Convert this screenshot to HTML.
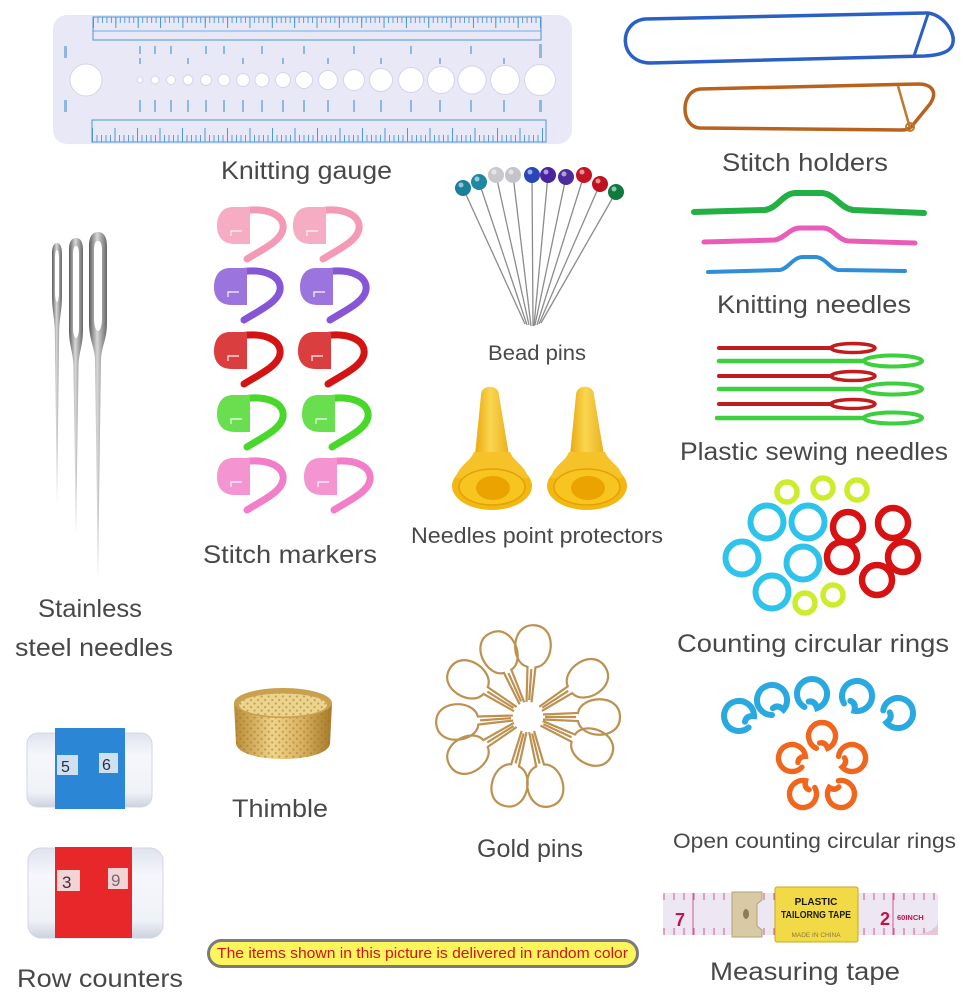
<!DOCTYPE html>
<html><head><meta charset="utf-8"><style>
html,body{margin:0;padding:0;background:#fff;}
svg{display:block;}
.l{font-family:"Liberation Sans",sans-serif;fill:#484848;font-size:25px;}
</style></head><body>
<svg width="972" height="996" viewBox="0 0 972 996" xmlns="http://www.w3.org/2000/svg">
<defs>
 <linearGradient id="steel" x1="0" x2="1" y1="0" y2="0">
  <stop offset="0" stop-color="#5a5a5a"/><stop offset=".45" stop-color="#d8d8d8"/><stop offset="1" stop-color="#686868"/>
 </linearGradient>
 <linearGradient id="gold" x1="0" x2="1" y1="0" y2="0">
  <stop offset="0" stop-color="#b88a35"/><stop offset=".4" stop-color="#f0d48a"/><stop offset=".7" stop-color="#d9b060"/><stop offset="1" stop-color="#a57a28"/>
 </linearGradient>
 <linearGradient id="cone" x1="0" x2="1" y1="0" y2="0">
  <stop offset="0" stop-color="#e9a90e"/><stop offset=".45" stop-color="#f9d650"/><stop offset="1" stop-color="#eab020"/>
 </linearGradient>
 <linearGradient id="cyl" x1="0" x2="0" y1="0" y2="1">
  <stop offset="0" stop-color="#dfe3ee"/><stop offset=".3" stop-color="#f6f7fc"/><stop offset=".8" stop-color="#f0f2f8"/><stop offset="1" stop-color="#cdd2e0"/>
 </linearGradient>
 <pattern id="tt" patternUnits="userSpaceOnUse" x="93" y="17" width="4.47" height="30">
  <line x1="0.5" y1="0" x2="0.5" y2="6" stroke="#4d98d6" stroke-width="0.9"/>
 </pattern>
 <pattern id="tt2" patternUnits="userSpaceOnUse" x="93" y="17" width="22.35" height="30">
  <line x1="0.5" y1="0" x2="0.5" y2="11" stroke="#4d98d6" stroke-width="1"/>
 </pattern>
 <pattern id="bt" patternUnits="userSpaceOnUse" x="92" y="0" width="4.5" height="200">
  <line x1="0.5" y1="135" x2="0.5" y2="142" stroke="#4d98d6" stroke-width="0.9"/>
 </pattern>
 <pattern id="bt2" patternUnits="userSpaceOnUse" x="92" y="0" width="22.5" height="200">
  <line x1="0.5" y1="128" x2="0.5" y2="142" stroke="#4d98d6" stroke-width="1"/>
 </pattern>
 <pattern id="tp" patternUnits="userSpaceOnUse" x="663" y="893" width="10" height="50">
  <line x1="1" y1="0" x2="1" y2="7" stroke="#d05a8a" stroke-width="1"/>
  <line x1="1" y1="35" x2="1" y2="42" stroke="#d05a8a" stroke-width="1"/>
 </pattern>
 <pattern id="dots" patternUnits="userSpaceOnUse" width="5" height="5" patternTransform="rotate(45)">
  <circle cx="2.5" cy="2.5" r="1.1" fill="#9c7428" opacity=".55"/>
 </pattern>
 <g id="mk">
  <path d="M26,4 C50,0 68,8 66,22 C64,34 46,42 30,52" stroke="currentColor" stroke-width="7" fill="none" stroke-linecap="round"/>
  <path d="M33,0 L16,0 C4,0 0,10 0,19 C0,30 6,37 18,37 L33,37 Z" fill="currentColor"/>
  <path d="M33,0 L16,0 C4,0 0,10 0,19 C0,30 6,37 18,37 L33,37 Z" fill="#fff" opacity=".18"/>
  <path d="M14,29 L14,24 L25,24" stroke="#fff" stroke-width="1.4" fill="none" opacity=".8"/>
 </g>
 <path id="orng" d="M-5.1,14.1 A15 15 0 1 1 7.5,13 Q4,6 -2,8" fill="none" stroke-width="6" stroke-linecap="round"/>
 <path id="gp" d="M15,-2.5 L50,-4 C53,-22 92,-24 92,0 C92,24 53,22 50,4 L15,2.5 M17,0 L48,0" fill="none" stroke="#bd9150" stroke-width="2.2"/>
</defs>

<!-- Knitting gauge -->
<rect x="53" y="15" width="519" height="129" rx="14" fill="#e9e8f6"/>
<rect x="93" y="17" width="448" height="22" fill="url(#tt)"/>
<rect x="93" y="17" width="448" height="22" fill="url(#tt2)"/>
<rect x="93" y="17" width="448" height="23" fill="none" stroke="#4d98d6" stroke-width="1"/>
<line x1="93" y1="31" x2="541" y2="31" stroke="#4d98d6" stroke-width="0.8"/>
<rect x="92" y="120" width="454" height="22" fill="url(#bt)"/>
<rect x="92" y="120" width="454" height="22" fill="url(#bt2)"/>
<rect x="92" y="120" width="454" height="22" fill="none" stroke="#4d98d6" stroke-width="1"/>
<g fill="#8db8e4">
 <rect x="64" y="46" width="3" height="12"/><rect x="139" y="46" width="2" height="8"/><rect x="154" y="46" width="2" height="8"/><rect x="170" y="46" width="2" height="8"/><rect x="205" y="46" width="2" height="8"/><rect x="223" y="46" width="2" height="8"/><rect x="261" y="46" width="2" height="8"/><rect x="303" y="46" width="2" height="8"/><rect x="353" y="46" width="2" height="8"/><rect x="410" y="46" width="2" height="8"/><rect x="470" y="46" width="2" height="8"/><rect x="539" y="44" width="3" height="14"/>
 <rect x="139" y="58" width="2" height="6"/><rect x="187" y="58" width="2" height="6"/><rect x="242" y="58" width="2" height="6"/><rect x="282" y="58" width="2" height="6"/><rect x="327" y="58" width="2" height="6"/><rect x="380" y="58" width="2" height="6"/><rect x="439" y="58" width="2" height="6"/><rect x="503" y="58" width="2" height="6"/>
 <rect x="64" y="100" width="3" height="12"/><rect x="139" y="100" width="2" height="12"/><rect x="154" y="100" width="2" height="12"/><rect x="170" y="100" width="2" height="12"/><rect x="187" y="100" width="2" height="12"/><rect x="205" y="100" width="2" height="12"/><rect x="223" y="100" width="2" height="12"/><rect x="242" y="100" width="2" height="12"/><rect x="261" y="100" width="2" height="12"/><rect x="282" y="100" width="2" height="12"/><rect x="303" y="100" width="2" height="12"/><rect x="327" y="100" width="2" height="12"/><rect x="353" y="100" width="2" height="12"/><rect x="380" y="100" width="2" height="12"/><rect x="410" y="100" width="2" height="12"/><rect x="439" y="100" width="2" height="12"/><rect x="470" y="100" width="2" height="12"/><rect x="503" y="100" width="2" height="12"/><rect x="539" y="100" width="3" height="12"/>
</g>
<g fill="#fff" stroke="#d6d4ea" stroke-width="1">
 <circle cx="86" cy="80" r="16"/><circle cx="140" cy="80" r="3"/><circle cx="155" cy="80" r="4"/><circle cx="171" cy="80" r="4.5"/><circle cx="188" cy="80" r="5"/><circle cx="206" cy="80" r="5.5"/><circle cx="224" cy="80" r="6"/><circle cx="243" cy="80" r="6.5"/><circle cx="262" cy="80" r="7"/><circle cx="283" cy="80" r="7.5"/><circle cx="304" cy="80" r="8.5"/><circle cx="328" cy="80" r="9.5"/><circle cx="354" cy="80" r="10.5"/><circle cx="381" cy="80" r="11.5"/><circle cx="411" cy="80" r="12.5"/><circle cx="441" cy="80" r="13.5"/><circle cx="472" cy="80" r="14"/><circle cx="505" cy="80" r="14.5"/><circle cx="540" cy="80" r="15.5"/>
</g>
<text class="l" x="221" y="179" textLength="171" lengthAdjust="spacingAndGlyphs">Knitting gauge</text>

<!-- Stitch holders -->
<path d="M645,19 L925,13 C940,12 955,30 953,42 C952,52 940,55 925,56 L650,63 C618,62 618,22 645,19 Z" fill="none" stroke="#2a5fc4" stroke-width="3.5"/>
<line x1="928" y1="14" x2="914" y2="56" stroke="#2a5fc4" stroke-width="3"/>
<path d="M700,89 L918,84 C932,84 938,92 930,104 L912,126 C908,130 905,130 900,130 L700,128 C680,127 680,91 700,89 Z" fill="none" stroke="#b8621e" stroke-width="3.5"/>
<line x1="898" y1="86" x2="910" y2="128" stroke="#c0782e" stroke-width="2.5"/>
<circle cx="910" cy="127" r="4" fill="none" stroke="#c0782e" stroke-width="2"/>
<text class="l" x="722" y="171" textLength="166" lengthAdjust="spacingAndGlyphs">Stitch holders</text>

<!-- Cable needles -->
<path d="M694,212 L765,210 C778,208 782,194 795,193 L822,193 C835,194 840,208 853,210 L924,213" fill="none" stroke="#23b043" stroke-width="6" stroke-linecap="round"/>
<path d="M704,242 L775,240 C785,238 790,228 800,228 L823,228 C833,228 838,240 848,241 L915,243" fill="none" stroke="#ea5cb9" stroke-width="5" stroke-linecap="round"/>
<path d="M708,272 L780,270 C788,269 793,257 803,257 L815,257 C825,257 830,269 838,270 L905,271" fill="none" stroke="#2f8ed8" stroke-width="4" stroke-linecap="round"/>
<text class="l" x="717" y="313" textLength="194" lengthAdjust="spacingAndGlyphs">Knitting needles</text>

<!-- Plastic sewing needles -->
<g stroke-linecap="round" fill="none">
 <line x1="719" y1="348" x2="832" y2="348" stroke="#c21c1c" stroke-width="4"/><ellipse cx="853" cy="348" rx="22" ry="4.5" stroke="#c21c1c" stroke-width="3.5"/>
 <line x1="719" y1="361" x2="864" y2="361" stroke="#3ecf3e" stroke-width="4.5"/><ellipse cx="893" cy="361" rx="29" ry="5.5" stroke="#3ecf3e" stroke-width="4"/>
 <line x1="719" y1="376" x2="832" y2="376" stroke="#c21c1c" stroke-width="4"/><ellipse cx="853" cy="376" rx="22" ry="4.5" stroke="#c21c1c" stroke-width="3.5"/>
 <line x1="719" y1="389" x2="864" y2="389" stroke="#3ecf3e" stroke-width="4.5"/><ellipse cx="893" cy="389" rx="29" ry="5.5" stroke="#3ecf3e" stroke-width="4"/>
 <line x1="719" y1="404" x2="832" y2="404" stroke="#c21c1c" stroke-width="4"/><ellipse cx="853" cy="404" rx="22" ry="4.5" stroke="#c21c1c" stroke-width="3.5"/>
 <line x1="717" y1="418" x2="864" y2="418" stroke="#3ecf3e" stroke-width="4.5"/><ellipse cx="893" cy="418" rx="29" ry="5.5" stroke="#3ecf3e" stroke-width="4"/>
</g>
<text class="l" x="680" y="460" textLength="268" lengthAdjust="spacingAndGlyphs">Plastic sewing needles</text>

<!-- Stainless steel needles -->
<path d="M57,505 L54.8,330 C54.5,318 52,310 52,295 L52,255 C52,246 54,243 57,243 C60,243 62,246 62,255 L62,295 C62,310 59.5,318 59.2,330 Z" fill="url(#steel)"/>
<path d="M57,250 C55.5,250 55,254 55,260 L55,292 C55,298 56,302 57,302 C58,302 59,298 59,292 L59,260 C59,254 58.5,250 57,250 Z" fill="#fff"/>
<path d="M76,535 L73.4,365 C73,352 69,345 69,330 L69,250 C69,241 72,238 76,238 C80,238 83,241 83,250 L83,330 C83,345 79,352 78.6,365 Z" fill="url(#steel)"/>
<path d="M76,246 C73.5,246 73,250 73,256 L73,328 C73,334 74.5,338 76,338 C77.5,338 79,334 79,328 L79,256 C79,250 78.5,246 76,246 Z" fill="#fff"/>
<path d="M98,580 L95,360 C94.5,346 89,340 89,322 L89,246 C89,236 93,232 98,232 C103,232 107,236 107,246 L107,322 C107,340 101.5,346 101,360 Z" fill="url(#steel)"/>
<path d="M98,241 C94.5,241 94,246 94,252 L94,318 C94,326 96,331 98,331 C100,331 102,326 102,318 L102,252 C102,246 101.5,241 98,241 Z" fill="#fff"/>
<text class="l" x="38" y="617" textLength="104" lengthAdjust="spacingAndGlyphs">Stainless</text>
<text class="l" x="15" y="656" textLength="158" lengthAdjust="spacingAndGlyphs">steel needles</text>

<!-- Stitch markers -->
<use href="#mk" x="217" y="207" style="color:#f59ab5"/>
<use href="#mk" x="293" y="207" style="color:#f59ab5"/>
<use href="#mk" x="214" y="268" style="color:#8656d6"/>
<use href="#mk" x="300" y="268" style="color:#8656d6"/>
<use href="#mk" x="214" y="332" style="color:#d41414"/>
<use href="#mk" x="298" y="332" style="color:#d41414"/>
<use href="#mk" x="217" y="395" style="color:#48d82a"/>
<use href="#mk" x="302" y="395" style="color:#48d82a"/>
<use href="#mk" x="217" y="458" style="color:#f27ec9"/>
<use href="#mk" x="304" y="458" style="color:#f27ec9"/>
<text class="l" x="203" y="563" textLength="174" lengthAdjust="spacingAndGlyphs">Stitch markers</text>

<!-- Bead pins -->
<g stroke="#8c8c8c" stroke-width="1.3">
 <line x1="463" y1="188" x2="525" y2="324"/><line x1="479" y1="182" x2="527" y2="325"/><line x1="496" y1="175" x2="529" y2="325"/><line x1="513" y1="175" x2="531" y2="326"/><line x1="532" y1="175" x2="533" y2="326"/><line x1="548" y1="175" x2="534" y2="326"/><line x1="566" y1="177" x2="535" y2="325"/><line x1="584" y1="175" x2="537" y2="325"/><line x1="600" y1="184" x2="539" y2="324"/><line x1="616" y1="192" x2="541" y2="323"/>
</g>
<g>
 <circle cx="463" cy="188" r="8" fill="#1b7f9c"/><circle cx="479" cy="182" r="8" fill="#1f86a4"/><circle cx="496" cy="175" r="8" fill="#c9c9cc"/><circle cx="513" cy="175" r="8" fill="#c4c4c8"/><circle cx="532" cy="175" r="8" fill="#2846b8"/><circle cx="548" cy="175" r="8" fill="#4a24a0"/><circle cx="566" cy="177" r="8" fill="#4b2d9e"/><circle cx="584" cy="175" r="8" fill="#c41424"/><circle cx="600" cy="184" r="8" fill="#c01020"/><circle cx="616" cy="192" r="8" fill="#0e7a3e"/>
 <g fill="#fff" opacity=".55"><circle cx="461" cy="185" r="2.5"/><circle cx="477" cy="179" r="2.5"/><circle cx="494" cy="172" r="2.5"/><circle cx="511" cy="172" r="2.5"/><circle cx="530" cy="172" r="2.5"/><circle cx="546" cy="172" r="2.5"/><circle cx="564" cy="174" r="2.5"/><circle cx="582" cy="172" r="2.5"/><circle cx="598" cy="181" r="2.5"/><circle cx="614" cy="189" r="2.5"/></g>
</g>
<text class="l" x="488" y="360" textLength="98" lengthAdjust="spacingAndGlyphs" style="font-size:21px">Bead pins</text>

<!-- Needle point protectors -->
<g>
 <path d="M481,395 C481,384 499,384 499,395 L509,455 L475,455 Z" fill="url(#cone)"/>
 <ellipse cx="492" cy="486" rx="40" ry="24" fill="#f3b712"/>
 <path d="M474,452 C470,462 458,466 456,478 L528,478 C526,466 514,462 510,452 Z" fill="#f5c22a"/>
 <ellipse cx="492" cy="487" rx="33" ry="18" fill="#f7c420" stroke="#e3a106" stroke-width="1.5"/>
 <ellipse cx="493" cy="488" rx="17" ry="12" fill="#eaa300"/>
 <path d="M576,395 C576,384 594,384 594,395 L604,455 L570,455 Z" fill="url(#cone)"/>
 <ellipse cx="587" cy="486" rx="40" ry="24" fill="#f3b712"/>
 <path d="M569,452 C565,462 553,466 551,478 L623,478 C621,466 609,462 605,452 Z" fill="#f5c22a"/>
 <ellipse cx="587" cy="487" rx="33" ry="18" fill="#f7c420" stroke="#e3a106" stroke-width="1.5"/>
 <ellipse cx="588" cy="488" rx="17" ry="12" fill="#eaa300"/>
</g>
<text class="l" x="411" y="543" textLength="252" lengthAdjust="spacingAndGlyphs" style="font-size:22px">Needles point protectors</text>

<!-- Counting circular rings -->
<g fill="none">
 <g stroke="#2ec3ea" stroke-width="6"><circle cx="767" cy="522" r="16.5"/><circle cx="808" cy="522" r="16.5"/><circle cx="742" cy="558" r="16.5"/><circle cx="803" cy="563" r="16.5"/><circle cx="772" cy="592" r="16.5"/></g>
 <g stroke="#d81212" stroke-width="6.5"><circle cx="848" cy="527" r="15"/><circle cx="893" cy="523" r="15"/><circle cx="842" cy="557" r="15"/><circle cx="903" cy="557" r="15"/><circle cx="877" cy="580" r="15"/></g>
 <g stroke="#cdec2c" stroke-width="5.5"><circle cx="787" cy="492" r="10"/><circle cx="823" cy="488" r="10"/><circle cx="857" cy="490" r="10"/><circle cx="805" cy="603" r="10"/><circle cx="833" cy="595" r="10"/></g>
</g>
<text class="l" x="677" y="652" textLength="272" lengthAdjust="spacingAndGlyphs">Counting circular rings</text>

<!-- Open counting rings -->
<g stroke="#2aa9e0">
 <use href="#orng" transform="translate(739,716) rotate(-60)"/>
 <use href="#orng" transform="translate(772,700) rotate(-20)"/>
 <use href="#orng" transform="translate(812,694) rotate(10)"/>
 <use href="#orng" transform="translate(857,696) rotate(40)"/>
 <use href="#orng" transform="translate(898,713) rotate(80)"/>
</g>
<g stroke="#f0661c">
 <use href="#orng" transform="translate(822,736) rotate(5) scale(.9)"/>
 <use href="#orng" transform="translate(852,758) rotate(77) scale(.9)"/>
 <use href="#orng" transform="translate(841,794) rotate(149) scale(.9)"/>
 <use href="#orng" transform="translate(803,794) rotate(221) scale(.9)"/>
 <use href="#orng" transform="translate(792,758) rotate(293) scale(.9)"/>
</g>
<text class="l" x="673" y="848" textLength="283" lengthAdjust="spacingAndGlyphs" style="font-size:21px">Open counting circular rings</text>

<!-- Row counters -->
<rect x="27" y="733" width="125" height="74" rx="11" fill="url(#cyl)"/>
<rect x="27" y="733" width="125" height="74" rx="11" fill="none" stroke="#d3d7e4" stroke-width="1"/>
<rect x="55" y="728" width="70" height="81" fill="#2c86d6"/>
<rect x="57" y="755" width="21" height="20" fill="#cfe0f0"/>
<rect x="99" y="753" width="19" height="20" fill="#cfe0f0"/>
<text x="61" y="772" style="font-family:'Liberation Sans',sans-serif;font-size:16px;fill:#2a2f48">5</text>
<text x="102" y="770" style="font-family:'Liberation Sans',sans-serif;font-size:16px;fill:#2a2f48">6</text>
<rect x="28" y="848" width="135" height="90" rx="13" fill="url(#cyl)"/>
<rect x="28" y="848" width="135" height="90" rx="13" fill="none" stroke="#d3d7e4" stroke-width="1"/>
<rect x="55" y="847" width="77" height="91" fill="#e8272b"/>
<rect x="57" y="870" width="23" height="21" fill="#f3d4d4"/>
<rect x="108" y="868" width="20" height="21" fill="#f3d4d4"/>
<text x="62" y="888" style="font-family:'Liberation Sans',sans-serif;font-size:17px;fill:#3a3046">3</text>
<text x="111" y="886" style="font-family:'Liberation Sans',sans-serif;font-size:17px;fill:#7a6878">9</text>
<text class="l" x="17" y="987" textLength="166" lengthAdjust="spacingAndGlyphs">Row counters</text>

<!-- Thimble -->
<path d="M234,703 L236,744 C240,764 326,764 330,744 L332,703 Z" fill="url(#gold)"/>
<path d="M234,703 L236,744 C240,764 326,764 330,744 L332,703 Z" fill="url(#dots)"/>
<ellipse cx="283" cy="703" rx="49" ry="15" fill="#c9a04c"/>
<ellipse cx="283" cy="705" rx="44" ry="11.5" fill="#ecd48e"/>
<ellipse cx="283" cy="705" rx="44" ry="11.5" fill="url(#dots)"/>
<text class="l" x="232" y="817" textLength="96" lengthAdjust="spacingAndGlyphs">Thimble</text>

<!-- Gold pins -->
<g transform="translate(528,717)">
 <use href="#gp" transform="rotate(-114)"/><use href="#gp" transform="rotate(-86)"/><use href="#gp" transform="rotate(-33)"/><use href="#gp" transform="rotate(0)"/><use href="#gp" transform="rotate(25)"/><use href="#gp" transform="rotate(76)"/><use href="#gp" transform="rotate(105)"/><use href="#gp" transform="rotate(148)"/><use href="#gp" transform="rotate(176)"/><use href="#gp" transform="rotate(-148)"/>
</g>
<text class="l" x="477" y="857" textLength="106" lengthAdjust="spacingAndGlyphs">Gold pins</text>

<!-- Measuring tape -->
<rect x="663" y="893" width="275" height="42" rx="3" fill="#ede6f3"/>
<rect x="663" y="893" width="275" height="42" fill="url(#tp)"/>
<path d="M905,935 C925,935 938,930 938,920 L938,935 Z" fill="#e8c8d8"/>
<line x1="693" y1="893" x2="693" y2="935" stroke="#d05a8a" stroke-width="1"/>
<line x1="893" y1="893" x2="893" y2="935" stroke="#d05a8a" stroke-width="1"/>
<text x="675" y="926" style="font-family:'Liberation Sans',sans-serif;font-size:18px;font-weight:bold;fill:#c4124c">7</text>
<text x="880" y="925" style="font-family:'Liberation Sans',sans-serif;font-size:18px;font-weight:bold;fill:#c4124c">2</text>
<text x="897" y="920" style="font-family:'Liberation Sans',sans-serif;font-size:7.5px;font-weight:bold;fill:#c4124c">60INCH</text>
<path d="M732,892 L762,892 L762,900 L757,904 L757,926 L762,930 L762,937 L732,937 Z" fill="#d8caa4" stroke="#b3a27a" stroke-width="1"/>
<ellipse cx="746" cy="914" rx="3" ry="5" fill="#8b7d5a"/>
<rect x="775" y="887" width="83" height="55" rx="2" fill="#f2da46" stroke="#c8a820" stroke-width="1"/>
<text x="816" y="905" text-anchor="middle" style="font-family:'Liberation Sans',sans-serif;font-size:10px;font-weight:bold;fill:#1a1a1a">PLASTIC</text>
<text x="816" y="918" text-anchor="middle" textLength="70" lengthAdjust="spacingAndGlyphs" style="font-family:'Liberation Sans',sans-serif;font-size:10px;font-weight:bold;fill:#1a1a1a">TAILORNG TAPE</text>
<text x="816" y="937" text-anchor="middle" style="font-family:'Liberation Sans',sans-serif;font-size:6.5px;fill:#8a7a3a">MADE IN CHINA</text>
<text class="l" x="710" y="980" textLength="190" lengthAdjust="spacingAndGlyphs">Measuring tape</text>

<!-- Banner -->
<rect x="208.5" y="940.5" width="429" height="26" rx="13" fill="#fdf55c" stroke="#7a7a7a" stroke-width="3"/>
<text x="217" y="958" textLength="411" lengthAdjust="spacingAndGlyphs" style="font-family:'Liberation Sans',sans-serif;font-size:14.5px;fill:#d0141a">The items shown in this picture is delivered in random color</text>
</svg>
</body></html>
